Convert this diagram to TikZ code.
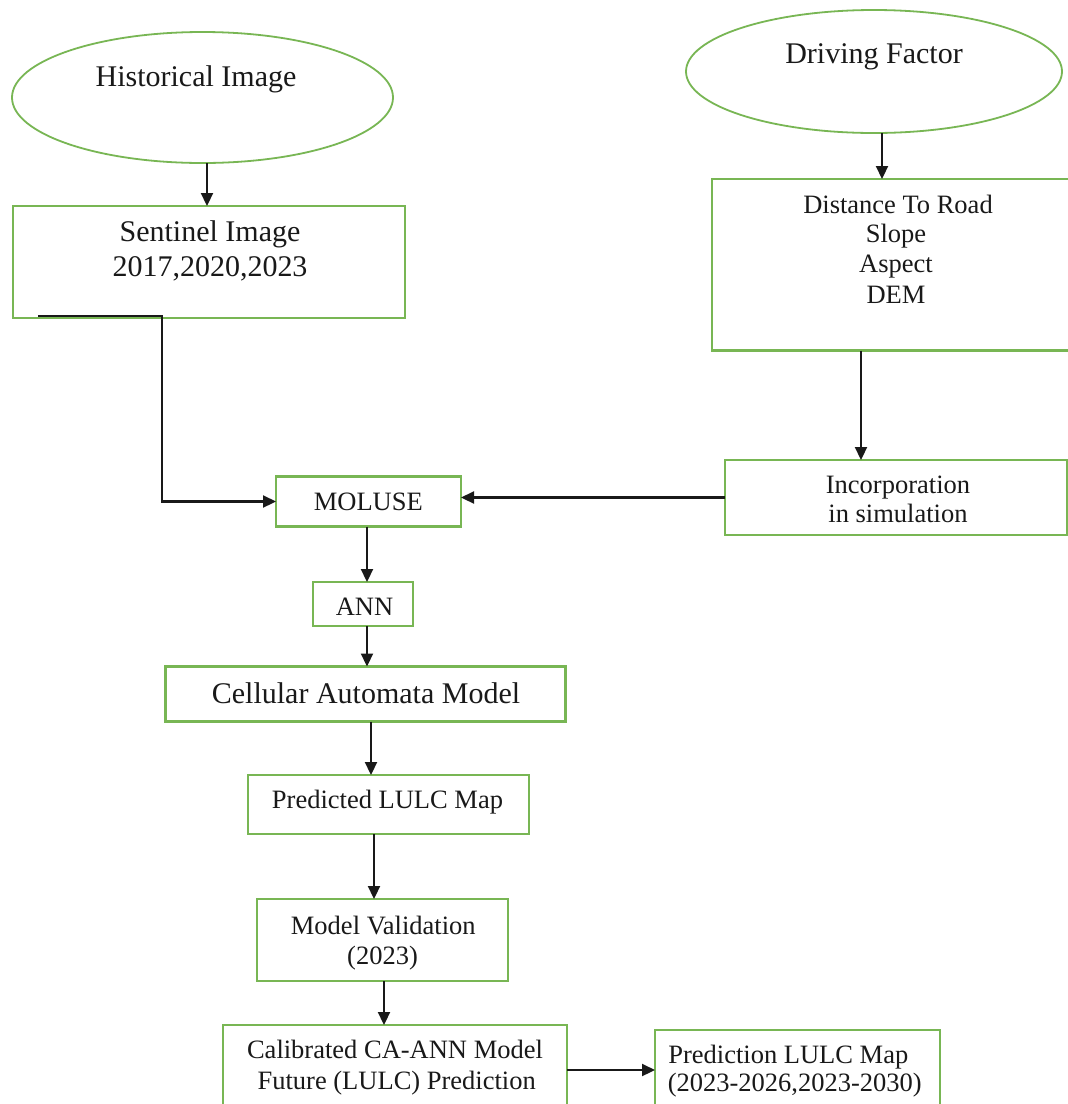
\documentclass[tikz,border=0pt]{standalone}
\usepackage{fontspec}
\setmainfont{Liberation Serif}
\usetikzlibrary{shapes.geometric,arrows.meta}
\definecolor{boxgreen}{RGB}{120,182,84}
\definecolor{inkc}{RGB}{25,25,25}
\begin{document}
\begin{tikzpicture}[x=1pt,y=-1pt,
  greenbox/.style={draw=boxgreen,line width=2.2pt,inner sep=0pt,outer sep=0pt,rectangle},
  oval/.style={draw=boxgreen,line width=1.8pt,ellipse,inner sep=0pt,outer sep=0pt},
  bigtxt/.style={font=\fontsize{30}{33}\selectfont,text=inkc,inner sep=0pt,anchor=base},
  smalltxt/.style={font=\fontsize{26.5}{30}\selectfont,text=inkc,inner sep=0pt,anchor=base},
  arr/.style={draw=inkc,line width=2.2pt,-{Triangle[length=13pt,width=12pt]}},
  plainline/.style={draw=inkc,line width=2.2pt}]
\useasboundingbox (0,0) rectangle (1068,1104);
\fill[white] (0,0) rectangle (1068,1104);

% shapes
\node[oval,minimum width=381pt,minimum height=131pt] (hist) at (202.5,97.5) {};
\node[oval,minimum width=376pt,minimum height=123pt] (drive) at (874,71.5) {};
\node[greenbox,minimum width=392pt,minimum height=112pt] (sent) at (209,262) {};
\node[greenbox,minimum width=368pt,minimum height=171.5pt] (dist) at (896,264.75) {};
\node[greenbox,minimum width=185pt,minimum height=50pt] (mol) at (368.5,501.5) {};
\node[greenbox,minimum width=342pt,minimum height=75pt] (inc) at (896,497.5) {};
\node[greenbox,minimum width=100pt,minimum height=44pt] (ann) at (362.7,604) {};
\node[greenbox,minimum width=400pt,minimum height=55pt] (cell) at (365.5,694) {};
\node[greenbox,minimum width=281pt,minimum height=59pt] (pred) at (388.3,804.5) {};
\node[greenbox,minimum width=251pt,minimum height=82pt] (val) at (382.5,940) {};
\node[greenbox,minimum width=344pt,minimum height=90pt] (cal) at (395,1070) {};
\node[greenbox,minimum width=285pt,minimum height=85pt] (out) at (797.5,1072.5) {};

% texts
\node[bigtxt] (tHist) at (196,86) {Historical Image};
\node[bigtxt] (tDrive) at (874,63.3) {Driving Factor};
\node[bigtxt] (tSent1) at (210,241.7) {Sentinel Image};
\node[bigtxt] (tSent2) at (210,276.7) {2017,2020,2023};
\node[smalltxt] (tDist1) at (898,213.3) {Distance To Road};
\node[smalltxt] (tDist2) at (896,242.5) {Slope};
\node[smalltxt] (tDist3) at (896,272) {Aspect};
\node[smalltxt] (tDist4) at (896,303) {DEM};
\node[smalltxt] (tMol) at (368.3,510) {MOLUSE};
\node[smalltxt] (tInc1) at (898,493) {Incorporation};
\node[smalltxt] (tInc2) at (898,522) {in simulation};
\node[smalltxt] (tAnn) at (364.5,615.7) {ANN};
\node[bigtxt] (tCell) at (366,703.3) {Cellular Automata Model};
\node[smalltxt] (tPred) at (387.5,808.3) {Predicted LULC Map};
\node[smalltxt] (tVal1) at (383.3,934.3) {Model Validation};
\node[smalltxt] (tVal2) at (382.5,964.5) {(2023)};
\node[smalltxt] (tCal1) at (395,1058.3) {Calibrated CA-ANN Model};
\node[smalltxt] (tCal2) at (396.7,1089) {Future (LULC) Prediction};
\node[smalltxt] (tOut1) at (788.3,1063.3) {Prediction LULC Map};
\node[smalltxt] (tOut2) at (794.8,1091) {(2023-2026,2023-2030)};

% connectors
\coordinate (xa) at (207,0);
\draw[arr] (xa |- hist.south) -- (xa |- sent.north);
\coordinate (xb) at (882,0);
\draw[arr] (xb |- drive.south) -- (xb |- dist.north);
\coordinate (xc) at (861,0);
\draw[arr] (xc |- dist.south) -- (xc |- inc.north);
\draw[arr] (inc.west) -- (inc.west -| mol.east);
\coordinate (s1) at (38,316);
\coordinate (s2) at (162,316);
\draw[arr] (s1) -- (s2) |- (mol.west);
\coordinate (xd) at (367,0);
\draw[arr] (xd |- mol.south) -- (xd |- ann.north);
\draw[arr] (xd |- ann.south) -- (xd |- cell.north);
\coordinate (xe) at (371,0);
\draw[arr] (xe |- cell.south) -- (xe |- pred.north);
\coordinate (xf) at (374,0);
\draw[arr] (xf |- pred.south) -- (xf |- val.north);
\coordinate (xg) at (384,0);
\draw[arr] (xg |- val.south) -- (xg |- cal.north);
\draw[arr] (cal.east) -- (cal.east -| out.west);
\end{tikzpicture}
\end{document}
